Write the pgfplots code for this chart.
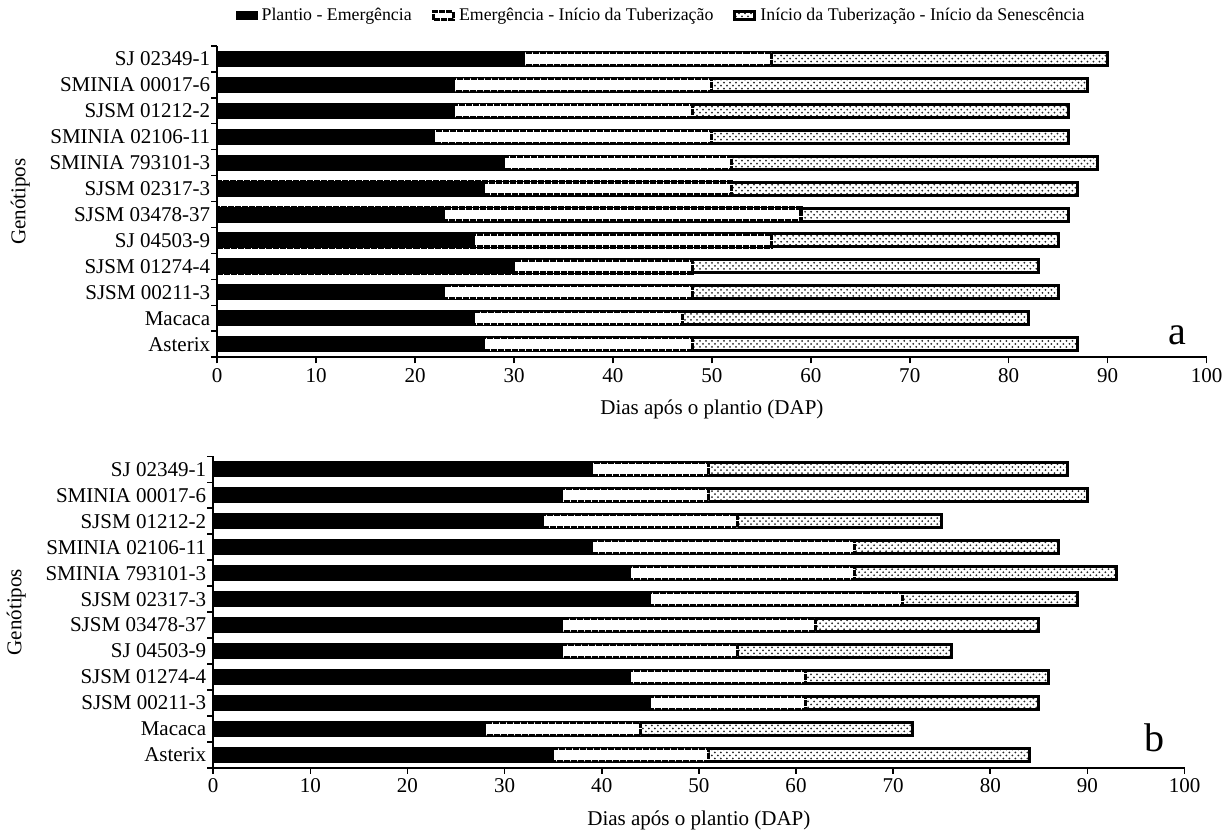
\documentclass[border=0pt]{standalone}
\usepackage{fontspec}
\setmainfont{Liberation Serif}
\usepackage{pgfplots}
\usepackage{pgfplotstable}
\pgfplotsset{compat=1.18}
\usetikzlibrary{patterns}

% columns: y position, end of Plantio-Emergencia, end of Emergencia-Inicio Tuberizacao, end of Tuberizacao-Senescencia
\pgfplotstableread{
y pe et ts
11 31 56 90
10 24 50 88
9  24 48 86
8  22 50 86
7  29 52 89
6  27 52 87
5  23 59 86
4  26 56 85
3  30 48 83
2  23 48 85
1  26 47 82
0  27 48 87
}\dataA

\pgfplotstableread{
y pe et ts
11 39 51 88
10 36 51 90
9  34 54 75
8  39 66 87
7  43 66 93
6  45 71 89
5  36 62 85
4  36 54 76
3  43 61 86
2  45 61 85
1  28 44 72
0  35 51 84
}\dataB

\pgfplotsset{
  faseaxis/.style={
    scale only axis,
    height=155.5pt,
    xmin=0, xmax=100,
    ymin=-0.5, ymax=11.5,
    xtick={0,10,...,100},
    ytick={-0.5,0.5,...,11.5},
    yticklabels={},
    extra y ticks={0,1,2,3,4,5,6,7,8,9,10,11},
    extra y tick labels={Asterix,Macaca,SJSM 00211-3,SJSM 01274-4,SJ 04503-9,SJSM 03478-37,SJSM 02317-3,SMINIA 793101-3,SMINIA 02106-11,SJSM 01212-2,SMINIA 00017-6,SJ 02349-1},
    extra y tick style={major tick length=0pt},
    axis x line*=bottom,
    axis y line*=left,
    axis line style={line width=1pt},
    tick align=outside,
    major tick length=3pt,
    tick style={black, line width=0.8pt},
    font=\fontsize{10.5}{12}\selectfont,
    /pgf/number format/assume math mode=true,
    xlabel={Dias após o plantio (DAP)},
    ylabel={Genótipos},
    xlabel style={yshift=-2pt},
    xticklabel style={yshift=1pt},
    xbar, bar width=6.5pt, bar shift=0pt,
  },
  pe/.style={fill=black, draw=black, line width=0.6pt},
  et/.style={fill=white, draw=black, line width=1.6pt, dash pattern=on 3pt off 0.5pt},
  ts/.style={draw=black, line width=1.5pt, pattern=crosshatch dots, pattern color=black!85},
}

\begin{document}
\begin{tikzpicture}
\begin{axis}[faseaxis, width=494pt,
    reverse legend,
    legend columns=3,
    legend style={at={(0.45,1)}, anchor=south, yshift=7pt, draw=none,
      font=\fontsize{8.9}{10}\selectfont,
      /tikz/every even column/.append style={column sep=8pt}},
    legend image code/.code={\draw[#1] (0pt,-2pt) rectangle (10pt,2pt);},
  ]
  \addplot[ts] table[x=ts, y=y] {\dataA};
  \addlegendentry{Início da Tuberização - Início da Senescência}
  \addplot[et] table[x=et, y=y] {\dataA};
  \addlegendentry{Emergência - Início da Tuberização}
  \addplot[pe] table[x=pe, y=y] {\dataA};
  \addlegendentry{Plantio - Emergência}
  \node[anchor=base east, font=\fontsize{20}{24}\selectfont] at (rel axis cs:0.987,0.04) {a};
\end{axis}

\begin{axis}[faseaxis, width=485pt, at={(-2pt,-205pt)}]
  \addplot[ts] table[x=ts, y=y] {\dataB};
  \addplot[et] table[x=et, y=y] {\dataB};
  \addplot[pe] table[x=pe, y=y] {\dataB};
  \node[anchor=base east, font=\fontsize{20}{24}\selectfont] at (rel axis cs:0.987,0.052) {b};
\end{axis}
\end{tikzpicture}
\end{document}
